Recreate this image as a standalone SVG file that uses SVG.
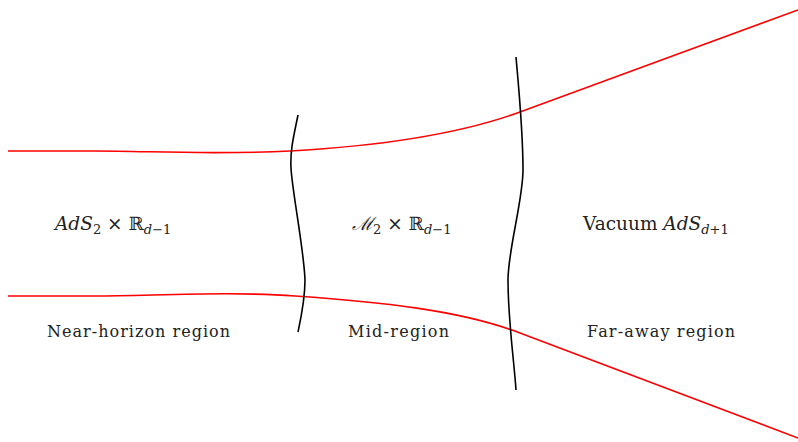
<svg xmlns="http://www.w3.org/2000/svg" width="798" height="442" viewBox="0 0 798 442">
<style>
.red{fill:none;stroke:#ff0000;stroke-width:1.6}
.blk{fill:none;stroke:#000;stroke-width:1.6}
text{font-family:"DejaVu Serif","Liberation Serif",serif;font-size:16px;fill:#222}
.mt{font-size:18.5px}
.m{font-style:italic}
.sub{font-size:13px}
</style>
<rect width="798" height="442" fill="#fff"/>
<g id="connectors">
<path id="upper-boundary" class="red" d="M8,151 L95,151 C150,151 210,155 290,151 C380,146 460,134 520,112 L798,10"/>
<path id="lower-boundary" class="red" d="M8,296 L95,296 C150,296 230,291 295,296 C380,302 460,310 520,333 L798,438"/>
<path id="cut-left" class="blk" d="M298,115 C294,135 290,150 291,168 C292,190 304,250 305,280 C305,300 301,318 298,332"/>
<path id="cut-right" class="blk" d="M516,57 C518,80 523,130 523,170 C523,200 508,250 508,280 C508,320 514,360 516,390"/>
</g>
<g id="near">
<text class="mt" x="55" y="230"><tspan class="m">AdS</tspan><tspan class="sub" dy="4">2</tspan><tspan dy="-4"> × ℝ</tspan><tspan class="sub m" dy="4">d</tspan><tspan class="sub">−1</tspan></text>
<text x="47" y="337" textLength="183">Near-horizon region</text>
</g>
<g id="mid">
<text class="mt" x="352" y="230"><tspan class="m">ℳ</tspan><tspan class="sub" dy="4">2</tspan><tspan dy="-4"> × ℝ</tspan><tspan class="sub m" dy="4">d</tspan><tspan class="sub">−1</tspan></text>
<text x="348" y="337" textLength="101">Mid-region</text>
</g>
<g id="far">
<text class="mt" x="583" y="230">Vacuum <tspan class="m">AdS</tspan><tspan class="sub m" dy="4">d</tspan><tspan class="sub">+1</tspan></text>
<text x="587" y="337" textLength="148">Far-away region</text>
</g>
</svg>
